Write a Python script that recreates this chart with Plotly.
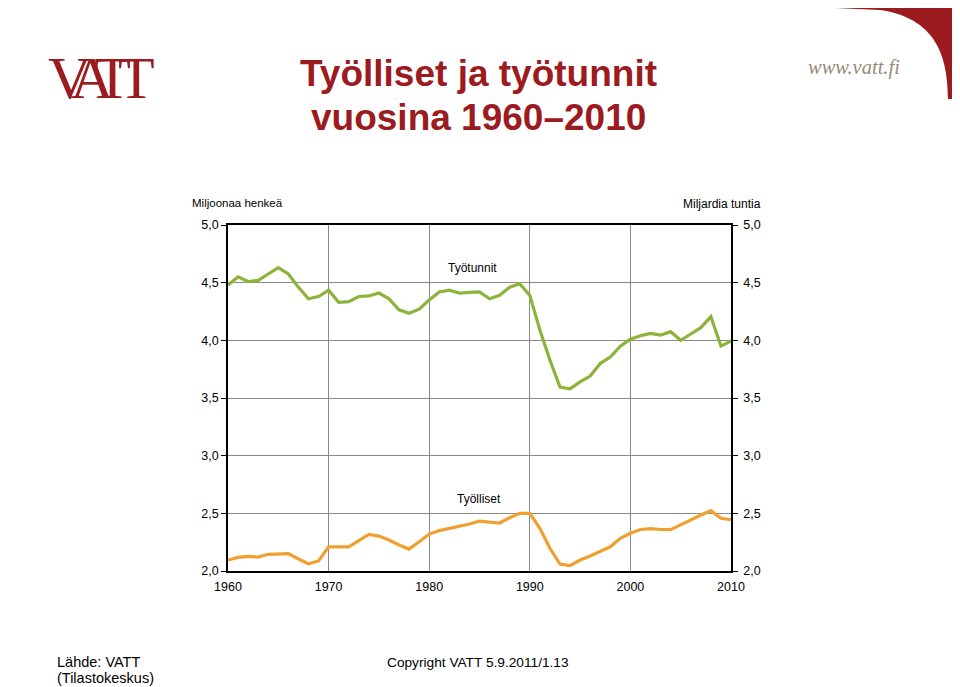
import plotly.graph_objects as go

years = list(range(1960, 2011))

tyotunnit = [4.48, 4.55, 4.51, 4.52, 4.575, 4.63, 4.575, 4.46, 4.36, 4.38,
             4.435, 4.33, 4.335, 4.38, 4.385, 4.41, 4.36, 4.265, 4.235, 4.27,
             4.35, 4.42, 4.435, 4.41, 4.415, 4.42, 4.36, 4.39, 4.46, 4.49,
             4.39, 4.09, 3.83, 3.595, 3.58, 3.64, 3.69, 3.80, 3.855, 3.95,
             4.01, 4.04, 4.06, 4.045, 4.075, 4.0, 4.055, 4.11, 4.205, 3.95,
             3.995]

tyolliset = [2.095, 2.118, 2.127, 2.121, 2.145, 2.147, 2.15, 2.104, 2.063, 2.087,
             2.21, 2.21, 2.21, 2.263, 2.318, 2.303, 2.269, 2.225, 2.19, 2.254,
             2.32, 2.35, 2.37, 2.384, 2.407, 2.433, 2.427, 2.416, 2.462, 2.50,
             2.50, 2.37, 2.197, 2.06, 2.046, 2.095, 2.13, 2.167, 2.21, 2.283,
             2.327, 2.36, 2.367, 2.36, 2.358, 2.40, 2.444, 2.486, 2.523, 2.457,
             2.444]

x_ticks = [1960, 1970, 1980, 1990, 2000, 2010]
y_ticks = [2.0, 2.5, 3.0, 3.5, 4.0, 4.5, 5.0]

OFF = 8  # page body margin
W, H = 960 - OFF, 687 - OFF
L, R, T, B = 228, 731, 225, 571  # plot area in screen pixels


def px(x):
    return (x - L) / (R - L)


def py(y):
    return (B - y) / (B - T)


FONT = "Liberation Sans, Arial, sans-serif"
SERIF = "Liberation Serif, DejaVu Serif, serif"
RED = "#9b1b1f"

fig = go.Figure()
fig.add_trace(go.Scatter(x=years, y=tyolliset, mode="lines",
                         line=dict(color="#f0a030", width=3.2), yaxis="y",
                         hoverinfo="skip", showlegend=False))
fig.add_trace(go.Scatter(x=years, y=tyotunnit, mode="lines",
                         line=dict(color="#8db43a", width=3.2), yaxis="y2",
                         hoverinfo="skip", showlegend=False))

axis_common = dict(range=[2, 5], tickvals=y_ticks, tickformat=".1f",
                   showline=True, linecolor="black", linewidth=1.5,
                   ticks="outside", ticklen=5, tickcolor="black",
                   tickfont=dict(family=FONT, size=12.5, color="black"),
                   zeroline=False, fixedrange=True)

fig.update_layout(
    width=W, height=H,
    margin=dict(l=L - OFF, r=W - (R - OFF), t=T - OFF, b=H - (B - OFF), pad=0),
    paper_bgcolor="white", plot_bgcolor="white",
    separators=", ",
    showlegend=False,
    xaxis=dict(range=[1960, 2010], tickvals=x_ticks,
               showgrid=True, gridcolor="#8a8a8a", gridwidth=1,
               showline=True, linecolor="black", linewidth=1.5, mirror=True,
               ticks="", ticklabelstandoff=3,
               tickfont=dict(family=FONT, size=12.5, color="black"),
               zeroline=False, fixedrange=True),
    yaxis=dict(**axis_common, side="left", showgrid=True,
               gridcolor="#8a8a8a", gridwidth=1),
    yaxis2=dict(**axis_common, side="right", overlaying="y", showgrid=False,
                ticklabelstandoff=3),
)

annotations = [
    dict(text="<b>Työlliset ja työtunnit</b>", x=px(478), y=py(73),
         font=dict(family=FONT, size=37, color=RED)),
    dict(text="<b>vuosina 1960–2010</b>", x=px(478), y=py(117),
         font=dict(family=FONT, size=37, color=RED)),
    dict(text="Miljoonaa henkeä", x=px(237), y=py(203),
         font=dict(family=FONT, size=11.5, color="black")),
    dict(text="Miljardia tuntia", x=px(722), y=py(204),
         font=dict(family=FONT, size=12, color="black")),
    dict(text="Työtunnit", x=px(472), y=py(268),
         font=dict(family=FONT, size=12, color="black")),
    dict(text="Työlliset", x=px(479), y=py(499),
         font=dict(family=FONT, size=12, color="black")),
    dict(text="Lähde: VATT", x=px(55), y=py(662), xanchor="left",
         font=dict(family=FONT, size=14.5, color="black")),
    dict(text="(Tilastokeskus)", x=px(55), y=py(678), xanchor="left",
         font=dict(family=FONT, size=14.5, color="black")),
    dict(text="Copyright VATT 5.9.2011/1.13", x=px(478), y=py(662),
         font=dict(family=FONT, size=13.7, color="black")),
    dict(text='<span style="letter-spacing:-13px">VATT</span>', x=px(101), y=py(78),
         font=dict(family=SERIF, size=60, color=RED)),
    dict(text="<i>www.vatt.fi</i>", x=px(854), y=py(67),
         font=dict(family=SERIF, size=20.5, color="#9a8a78")),
]
for a in annotations:
    a.setdefault("xanchor", "center")
    a.update(xref="paper", yref="paper", yanchor="middle", showarrow=False)
fig.update_layout(annotations=annotations)

# decorative corner band (top right)
path = "M {} {} L {} {} L {} {} L {} {}".format(
    px(835), py(2), px(956), py(2), px(956), py(99), px(948), py(99))
path += " C {} {} {} {} {} {}".format(px(948), py(55), px(935), py(18), px(880), py(10))
path += " L {} {} Z".format(px(835), py(8))
fig.add_shape(type="path", path=path, xref="paper", yref="paper",
              fillcolor=RED, line=dict(width=0), layer="above")

fig.write_html("out.html")
